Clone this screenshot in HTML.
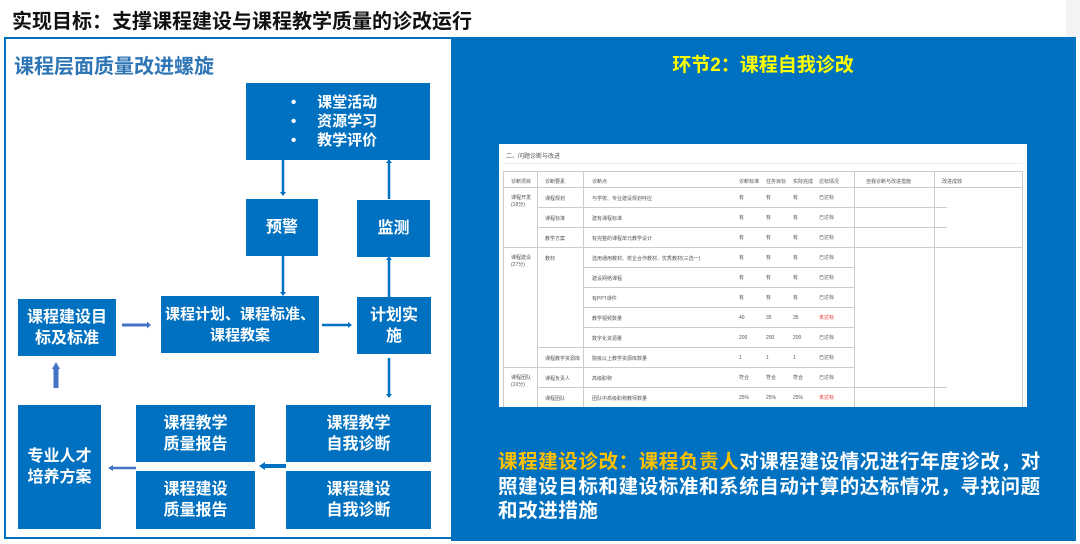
<!DOCTYPE html>
<html><head><meta charset="utf-8">
<style>
*{margin:0;padding:0;box-sizing:border-box}
body{width:1080px;height:544px;background:#fff;position:relative;overflow:hidden;font-family:"Liberation Sans","Noto Sans CJK SC",sans-serif}
.a{position:absolute}
.b{position:absolute;background:#0070c0;color:#fff;font-weight:bold;font-size:16px;line-height:21px;display:flex;align-items:center;justify-content:center;text-align:center}
.t{position:absolute;font-size:5px;color:#555;white-space:nowrap}
.h{position:absolute;background:#ccc;height:1px}
.v{position:absolute;background:#ccc;width:1px}
</style></head><body>
<div class="a" style="left:1066px;top:0;width:14px;height:37px;background:#f3f4f6"></div>
<div class="a" style="left:12px;top:5px;font-size:20px;font-weight:bold;color:#111;white-space:nowrap">实现目标：支撑课程建设与课程教学质量的诊改运行</div>
<div class="a" style="left:4px;top:37px;width:449px;height:502px;border:2px solid #0070c0"></div>
<div class="a" style="left:451px;top:37px;width:625px;height:504px;background:#0070c0"></div>
<div class="a" style="left:14px;top:50px;font-size:20px;font-weight:bold;color:#2e75b6;white-space:nowrap">课程层面质量改进螺旋</div>

<div class="b" style="left:246px;top:83px;width:184px;height:77px;justify-content:flex-start;padding-left:45px;text-align:left;line-height:19px;font-size:15px">
<div>•&nbsp;&nbsp;&nbsp;&nbsp;&nbsp;课堂活动<br>•&nbsp;&nbsp;&nbsp;&nbsp;&nbsp;资源学习<br>•&nbsp;&nbsp;&nbsp;&nbsp;&nbsp;教学评价</div></div>
<div class="b" style="left:246px;top:199px;width:72px;height:57px">预警</div>
<div class="b" style="left:357px;top:200px;width:73px;height:57px">监测</div>
<div class="b" style="left:18px;top:299px;width:98px;height:57px">课程建设目<br>标及标准</div>
<div class="b" style="left:161px;top:296px;width:158px;height:57px;font-size:15px">课程计划、课程标准、<br>课程教案</div>
<div class="b" style="left:357px;top:297px;width:74px;height:57px">计划实<br>施</div>
<div class="b" style="left:18px;top:405px;width:83px;height:124px">专业人才<br>培养方案</div>
<div class="b" style="left:136px;top:405px;width:119px;height:57px">课程教学<br>质量报告</div>
<div class="b" style="left:136px;top:471px;width:119px;height:58px">课程建设<br>质量报告</div>
<div class="b" style="left:286px;top:405px;width:145px;height:57px">课程教学<br>自我诊断</div>
<div class="b" style="left:286px;top:471px;width:145px;height:58px">课程建设<br>自我诊断</div>

<svg class="a" style="left:0;top:0" width="460" height="544">
<g stroke="#0070c0" stroke-width="2.5">
<line x1="283" y1="160" x2="283" y2="192"/>
<line x1="389" y1="199" x2="389" y2="163"/>
<line x1="283" y1="256" x2="283" y2="292"/>
<line x1="389" y1="297" x2="389" y2="260"/>
<line x1="389" y1="358" x2="389" y2="394"/>
<line x1="322" y1="325" x2="348" y2="325"/>
<line x1="286" y1="466" x2="265" y2="466" stroke-width="4"/>
</g>
<g fill="#0070c0">
<polygon points="280,192 286,192 283,196"/>
<polygon points="386,163 392,163 389,159"/>
<polygon points="280,292 286,292 283,296"/>
<polygon points="386,260 392,260 389,256"/>
<polygon points="386,394 392,394 389,398"/>
<polygon points="348,322 348,328 352,325"/>
<polygon points="265,462 265,470 259,466"/>
</g>
<g stroke="#4472c4">
<line x1="122" y1="325" x2="147" y2="325" stroke-width="3"/>
<line x1="136" y1="468" x2="113" y2="468" stroke-width="2.5"/>
<line x1="56" y1="388" x2="56" y2="369" stroke-width="5"/>
</g>
<g fill="#4472c4">
<polygon points="147,321.5 147,328.5 151,325"/>
<polygon points="113,465 113,471 108,468"/>
<polygon points="52,369 60,369 56,362"/>
</g>
</svg>

<div class="a" style="left:452px;top:50px;width:622px;text-align:center;color:#ffff00;font-size:19px;font-weight:bold">环节2：课程自我诊改</div>

<div class="a" style="left:499px;top:144px;width:528px;height:263px;background:#fff;overflow:hidden">
<div class="t" style="left:7px;top:7px;font-size:6px">二、问题诊断与改进</div>
<div class="h" style="left:4px;top:19px;width:520px;background:#eee"></div>
<div class="a" style="left:4px;top:27px;width:520px;height:240px;border:1px solid #ccc"></div>
<div class="h" style="left:4px;top:43px;width:520px"></div>
<div class="h" style="left:38px;top:63px;width:410px"></div>
<div class="h" style="left:38px;top:83px;width:410px"></div>
<div class="h" style="left:4px;top:103px;width:520px"></div>
<div class="h" style="left:84px;top:123px;width:271px"></div>
<div class="h" style="left:84px;top:143px;width:271px"></div>
<div class="h" style="left:84px;top:163px;width:271px"></div>
<div class="h" style="left:84px;top:183px;width:271px"></div>
<div class="h" style="left:38px;top:203px;width:317px"></div>
<div class="h" style="left:4px;top:223px;width:351px"></div>
<div class="h" style="left:38px;top:243px;width:410px"></div>
<div class="v" style="left:38px;top:27px;height:240px"></div>
<div class="v" style="left:84px;top:27px;height:240px"></div>
<div class="v" style="left:355px;top:27px;height:240px"></div>
<div class="v" style="left:435px;top:27px;height:240px"></div>
<div class="t" style="left:12px;top:34px">诊断项目</div><div class="t" style="left:46px;top:34px">诊断要素</div><div class="t" style="left:93px;top:34px">诊断点</div>
<div class="t" style="left:240px;top:34px">诊断标准</div><div class="t" style="left:267px;top:34px">任务目标</div><div class="t" style="left:294px;top:34px">实际完成</div><div class="t" style="left:320px;top:34px">达标情况</div><div class="t" style="left:367px;top:34px">自我诊断与改进措施</div><div class="t" style="left:443px;top:34px">改进成效</div>
<div class="t" style="left:12px;top:50px">课程开发<br>(18分)</div>
<div class="t" style="left:46px;top:51px">课程规划</div><div class="t" style="left:93px;top:51px">与学校、专业建设规划呼应</div>
<div class="t" style="left:46px;top:71px">课程标准</div><div class="t" style="left:93px;top:71px">建有课程标准</div>
<div class="t" style="left:46px;top:91px">教学方案</div><div class="t" style="left:93px;top:91px">有完整的课程单元教学设计</div>
<div class="t" style="left:12px;top:110px">课程建设<br>(27分)</div><div class="t" style="left:46px;top:111px">教材</div>
<div class="t" style="left:93px;top:111px">选用通用教材、校企合作教材、优秀教材(三选一)</div>
<div class="t" style="left:93px;top:131px">建设网络课程</div>
<div class="t" style="left:93px;top:151px">有PPT课件</div>
<div class="t" style="left:93px;top:171px">教学视频数量</div>
<div class="t" style="left:93px;top:191px">数字化资源量</div>
<div class="t" style="left:46px;top:211px">课程教学资源库</div><div class="t" style="left:93px;top:211px">院级以上教学资源库数量</div>
<div class="t" style="left:12px;top:230px">课程团队<br>(10分)</div>
<div class="t" style="left:46px;top:231px">课程负责人</div><div class="t" style="left:93px;top:231px">高级职称</div>
<div class="t" style="left:46px;top:251px">课程团队</div><div class="t" style="left:93px;top:251px">团队中高级职称教师数量</div>
<div class="t" style="left:240px;top:44px;line-height:20px">有<br>有<br>有<br>有<br>有<br>有<br>40<br>200<br>1<br>符合<br>25%</div>
<div class="t" style="left:267px;top:44px;line-height:20px">有<br>有<br>有<br>有<br>有<br>有<br>35<br>200<br>1<br>符合<br>25%</div>
<div class="t" style="left:294px;top:44px;line-height:20px">有<br>有<br>有<br>有<br>有<br>有<br>35<br>200<br>1<br>符合<br>25%</div>
<div class="t" style="left:320px;top:44px;line-height:20px">已达标<br>已达标<br>已达标<br>已达标<br>已达标<br>已达标<br><span style="color:#e33">未达标</span><br>已达标<br>已达标<br>已达标<br><span style="color:#e33">未达标</span></div>
</div>

<div class="a" style="left:498px;top:450px;width:560px;color:#fff;font-size:19.5px;font-weight:bold;line-height:24.5px;letter-spacing:0.6px"><span style="color:#ffc000">课程建设诊改：课程负责人</span>对课程建设情况进行年度诊改，对<br>照建设目标和建设标准和系统自动计算的达标情况，寻找问题<br>和改进措施</div>
</body></html>
